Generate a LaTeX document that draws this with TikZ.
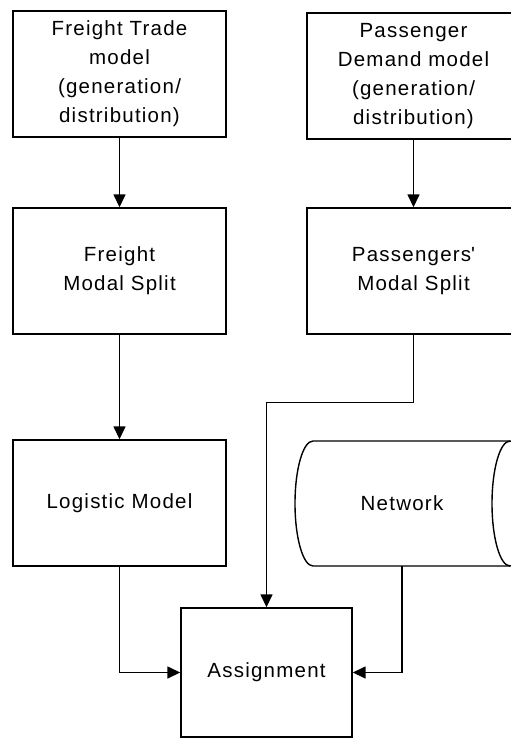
\documentclass[tikz,border=0pt]{standalone}
\usepackage{fontspec}
\setmainfont{Liberation Sans}[LetterSpace=6]
\usetikzlibrary{arrows.meta,positioning}

\begin{document}
\begin{tikzpicture}[x=1pt,y=1pt,
  box/.style={draw, line width=1.4pt, minimum width=213pt, minimum height=126pt,
    align=center, inner sep=0pt},
  flow/.style={line width=1.5pt, -{Triangle[length=13pt,width=12pt]}},
  font=\fontsize{20.5}{29}\selectfont]
  \clip (0,0) rectangle (511,-747);
  % demand models
  \node[box] (trade) at (119.5,-74) {Freight Trade\\model\\(generation/\\distribution)};
  \node[box] (pdemand) at (413.5,-76) {Passenger\\Demand model\\(generation/\\distribution)};
  % modal split
  \node[box] (fsplit) at (119.5,-271) {Freight\\Modal Split};
  \node[box] (psplit) at (413.5,-271) {Passengers\textquotesingle\\Modal Split};
  % logistics and network
  \node[box] (logistic) at (119.5,-503) {Logistic Model};
  \draw[line width=1.4pt] (313,-441) arc[start angle=90, end angle=270, x radius=18, y radius=62.5]
    -- (510,-566) arc[start angle=-90, end angle=90, x radius=18, y radius=62.5] -- cycle;
  \draw[line width=1.4pt] (510,-441) arc[start angle=90, end angle=270, x radius=18, y radius=62.5];
  \node (net) at (402,-503) {Network};
  \coordinate (netb) at (402,-566);
  \node[box, minimum width=171pt, minimum height=129pt] (assign) at (266.5,-672.5) {Assignment};
  % connectors
  \draw[flow] (trade) -- (fsplit);
  \draw[flow] (pdemand) -- (psplit);
  \draw[flow] (fsplit) -- (logistic);
  \draw[flow] (psplit.south) -- ++(0,-68) -| (assign.north);
  \draw[flow] (logistic.south) |- (assign.west);
  \draw[flow] (netb) |- (assign.east);
\end{tikzpicture}
\end{document}
